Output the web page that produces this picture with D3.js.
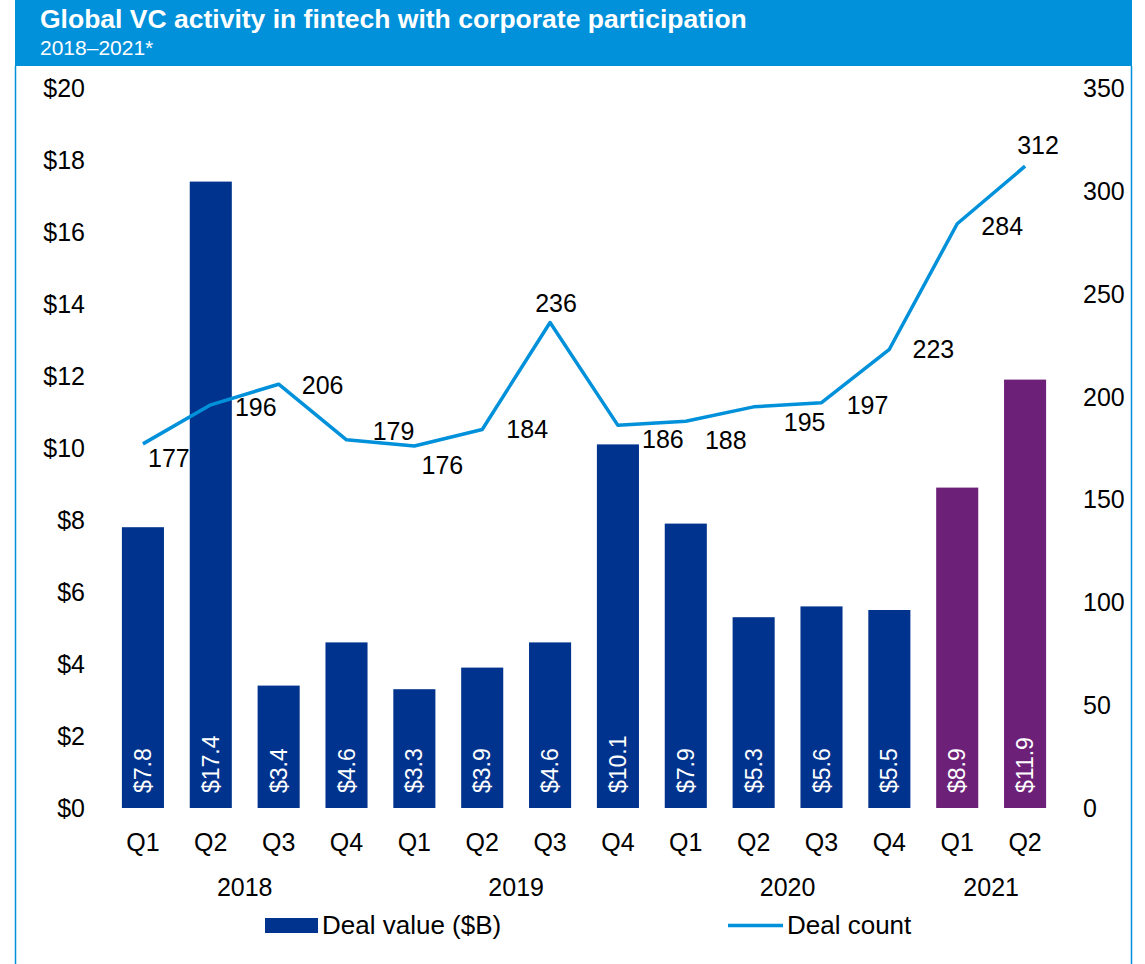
<!DOCTYPE html>
<html>
<head>
<meta charset="utf-8">
<script src="https://cdn.jsdelivr.net/npm/d3@7"></script>
<style>
  body { margin: 0; background: #fff; }
  svg { display: block; font-family: Arial, "Liberation Sans", sans-serif; }
</style>
</head>
<body>
<script>
// chart data
var quarters = ["Q1","Q2","Q3","Q4","Q1","Q2","Q3","Q4","Q1","Q2","Q3","Q4","Q1","Q2"];
var years = ["2018","2019","2020","2021"];
var yearOf = ["2018","2018","2018","2018","2019","2019","2019","2019","2020","2020","2020","2020","2021","2021"];
var dealValue = [7.8, 17.4, 3.4, 4.6, 3.3, 3.9, 4.6, 10.1, 7.9, 5.3, 5.6, 5.5, 8.9, 11.9];
var dealCount = [177, 196, 206, 179, 176, 184, 236, 186, 188, 195, 197, 223, 284, 312];
var leftTicks = [0, 2, 4, 6, 8, 10, 12, 14, 16, 18, 20];
var rightTicks = [0, 50, 100, 150, 200, 250, 300, 350];

// where each count label sits relative to its point (dx, dy)
var labelOffsets = [[26,14],[45,2],[44,1],[47,-9],[28,19],[45,0],[6,-20],[45,14],[40,19],[51,15],[46,2],[44,0],[45,2],[13,-21]];

var W = 1145, H = 964;
var navy = "#00338D", purple = "#6D2077", blue = "#0091DA";
var fs = "25px";

var svg = d3.select("body").append("svg")
    .attr("width", W)
    .attr("height", H);

// header band
svg.append("rect")
    .attr("x", 15).attr("y", 0)
    .attr("width", 1117).attr("height", 66)
    .attr("fill", blue);
svg.append("text")
    .attr("x", 40).attr("y", 28)
    .attr("fill", "#fff")
    .style("font-size", "26.5px").style("font-weight", "bold")
    .text("Global VC activity in fintech with corporate participation");
svg.append("text")
    .attr("x", 40).attr("y", 55)
    .attr("fill", "#fff")
    .style("font-size", "21px")
    .text("2018–2021*");

// frame sides
svg.append("line").attr("x1", 15.5).attr("x2", 15.5).attr("y1", 66).attr("y2", H)
    .attr("stroke", blue).attr("stroke-width", 1.5);
svg.append("line").attr("x1", 1131.5).attr("x2", 1131.5).attr("y1", 66).attr("y2", H)
    .attr("stroke", blue).attr("stroke-width", 1.5);

var idx = d3.range(quarters.length);

var x = d3.scaleBand()
    .domain(idx)
    .range([109, 1059])
    .paddingInner(0.38)
    .paddingOuter(0.19);

var yL = d3.scaleLinear().domain([0, 20]).range([808, 88]);
var yR = d3.scaleLinear().domain([0, 350]).range([808, 88]);

function cx(i) { return x(i) + x.bandwidth() / 2; }

// left axis labels
svg.append("g").selectAll("text")
    .data(leftTicks)
    .enter().append("text")
    .attr("x", 85)
    .attr("y", function(d) { return yL(d) + 9; })
    .attr("text-anchor", "end")
    .style("font-size", fs)
    .text(function(d) { return "$" + d; });

// right axis labels
svg.append("g").selectAll("text")
    .data(rightTicks)
    .enter().append("text")
    .attr("x", 1083)
    .attr("y", function(d) { return yR(d) + 9; })
    .attr("text-anchor", "start")
    .style("font-size", fs)
    .text(function(d) { return d; });

// bars
svg.append("g").selectAll("rect")
    .data(idx)
    .enter().append("rect")
    .attr("x", function(i) { return x(i); })
    .attr("y", function(i) { return yL(dealValue[i]); })
    .attr("width", x.bandwidth())
    .attr("height", function(i) { return yL(0) - yL(dealValue[i]); })
    .attr("fill", function(i) { return yearOf[i] == "2021" ? purple : navy; });

// bar value labels (rotated)
svg.append("g").selectAll("text")
    .data(idx)
    .enter().append("text")
    .attr("transform", function(i) { return "translate(" + (cx(i) + 8) + ",793) rotate(-90)"; })
    .attr("fill", "#fff")
    .style("font-size", "23px")
    .text(function(i) { return "$" + dealValue[i].toFixed(1); });

// count line
var line = d3.line()
    .x(function(i) { return cx(i); })
    .y(function(i) { return yR(dealCount[i]); });

svg.append("path")
    .datum(idx)
    .attr("d", line)
    .attr("fill", "none")
    .attr("stroke", blue)
    .attr("stroke-width", 3.5)
    .attr("stroke-linejoin", "round");

svg.append("g").selectAll("text")
    .data(idx)
    .enter().append("text")
    .attr("x", function(i) { return cx(i) + labelOffsets[i][0]; })
    .attr("y", function(i) { return yR(dealCount[i]) + labelOffsets[i][1] + 9; })
    .attr("text-anchor", "middle")
    .style("font-size", fs)
    .text(function(i) { return dealCount[i]; });

// quarter labels
svg.append("g").selectAll("text")
    .data(idx)
    .enter().append("text")
    .attr("x", function(i) { return cx(i); })
    .attr("y", 851)
    .attr("text-anchor", "middle")
    .style("font-size", fs)
    .text(function(i) { return quarters[i]; });

// year labels, centred under their quarters
svg.append("g").selectAll("text")
    .data(years)
    .enter().append("text")
    .attr("x", function(yr) {
      var q = idx.filter(function(i) { return yearOf[i] == yr; });
      return (cx(q[0]) + cx(q[q.length - 1])) / 2;
    })
    .attr("y", 896)
    .attr("text-anchor", "middle")
    .style("font-size", fs)
    .text(function(d) { return d; });

// legend
var lg = svg.append("g");
lg.append("rect").attr("x", 265).attr("y", 918).attr("width", 53).attr("height", 15).attr("fill", navy);
lg.append("text").attr("x", 322).attr("y", 934).style("font-size", "26px").text("Deal value ($B)");
lg.append("line").attr("x1", 728).attr("x2", 783).attr("y1", 925.5).attr("y2", 925.5)
    .attr("stroke", blue).attr("stroke-width", 3.5);
lg.append("text").attr("x", 787).attr("y", 934).style("font-size", "26px").text("Deal count");
</script>
</body>
</html>
